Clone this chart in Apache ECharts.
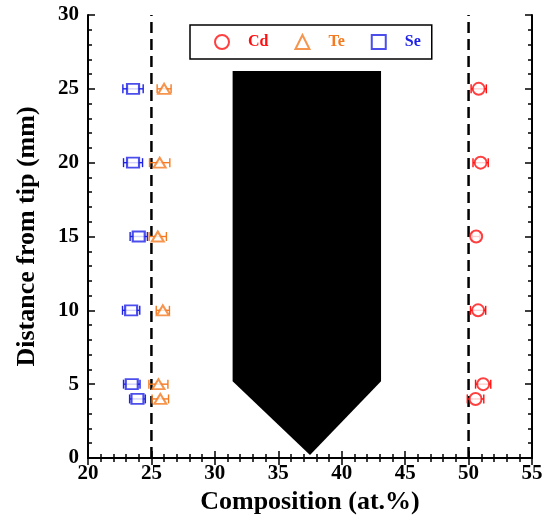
<!DOCTYPE html>
<html>
<head>
<meta charset="utf-8">
<script src="https://cdn.jsdelivr.net/npm/echarts@6/dist/echarts.min.js"></script>
<style>html,body{margin:0;padding:0;background:#fff;}#c{width:550px;height:525px;}</style>
</head>
<body>
<div id="c"></div>
<script>
// Distance from tip (mm)
var positions = [25, 20, 15, 10, 5, 4];
// Composition (at.%) and error (half-width)
var cdValues = [50.8, 50.95, 50.6, 50.75, 51.15, 50.55];
var cdErrors = [0.6, 0.6, 0.3, 0.6, 0.6, 0.65];
var teValues = [26.0, 25.65, 25.5, 25.9, 25.55, 25.7];
var teErrors = [0.55, 0.8, 0.68, 0.52, 0.75, 0.65];
var seValues = [23.55, 23.55, 24.0, 23.4, 23.45, 23.9];
var seErrors = [0.8, 0.75, 0.68, 0.68, 0.65, 0.62];
// Reference (stoichiometric) lines
var refLines = [25, 50];
// Tip outline (composition, distance)
var tipShapeX = [31.4, 43.1, 43.1, 37.5, 31.4];
var tipShapeY = [26.2, 26.2, 5.2, 0.2, 5.2];
// Axis ticks
var xTicks = [20, 25, 30, 35, 40, 45, 50, 55];
var yTicks = [0, 5, 10, 15, 20, 25, 30];

var FONT = "'Liberation Serif', 'Times New Roman', serif";
var RED = '#ff1010', ORANGE = '#f47a22', BLUE = '#1e22e6';

function pts(vals) { return vals.map(function (v, i) { return [v, positions[i]]; }); }
function errs(vals, e) { return vals.map(function (v, i) { return [v, positions[i], e[i]]; }); }

function errorBar(color) {
  return function (params, api) {
    var x = api.value(0), y = api.value(1), e = api.value(2);
    var a = api.coord([x - e, y]), b = api.coord([x + e, y]);
    var h = 4.5;
    var st = { stroke: color, lineWidth: 1.4 };
    return {
      type: 'group',
      children: [
        { type: 'line', shape: { x1: a[0], y1: a[1], x2: b[0], y2: b[1] }, style: st },
        { type: 'line', shape: { x1: a[0], y1: a[1] - h, x2: a[0], y2: a[1] + h }, style: st },
        { type: 'line', shape: { x1: b[0], y1: b[1] - h, x2: b[0], y2: b[1] + h }, style: st }
      ]
    };
  };
}

var axisCommon = {
  axisLine: { show: true, lineStyle: { color: '#000', width: 2 } },
  axisTick: { show: true, inside: true, length: 7, lineStyle: { color: '#000', width: 1.5 } },
  minorTick: { show: true, splitNumber: 5, length: 4, lineStyle: { color: '#000', width: 1.5 } },
  splitLine: { show: false }
};

var chart = echarts.init(document.getElementById('c'), null, { renderer: 'canvas' });
chart.setOption({
  backgroundColor: '#fff',
  animation: false,
  grid: { left: 88, right: 18, top: 15, bottom: 67 },
  legend: {
    left: 190, top: 25,
    orient: 'horizontal',
    padding: [9, 11, 9, 24],
    itemWidth: 14, itemHeight: 14, itemGap: 26,
    borderColor: '#000', borderWidth: 1.5, backgroundColor: '#fff',
    selectedMode: false,
    textStyle: { fontFamily: FONT, fontWeight: 'bold', fontSize: 16, padding: [0, 0, 0, 14] },
    data: [
      { name: 'Cd', textStyle: { color: RED } },
      { name: 'Te', textStyle: { color: ORANGE } },
      { name: 'Se', textStyle: { color: BLUE } }
    ]
  },
  xAxis: [
    Object.assign({}, axisCommon, {
      type: 'value', min: xTicks[0], max: xTicks[xTicks.length - 1], interval: 5,
      name: 'Composition (at.%)', nameLocation: 'middle', nameGap: 30,
      nameTextStyle: { fontFamily: FONT, fontWeight: 'bold', fontSize: 26, color: '#000' },
      axisLabel: { fontFamily: FONT, fontWeight: 'bold', fontSize: 21, color: '#000', margin: 5 }
    }),
    Object.assign({}, axisCommon, {
      type: 'value', position: 'top', min: xTicks[0], max: xTicks[xTicks.length - 1], interval: 5,
      axisLabel: { show: false }
    })
  ],
  yAxis: [
    Object.assign({}, axisCommon, {
      type: 'value', min: yTicks[0], max: yTicks[yTicks.length - 1], interval: 5,
      name: 'Distance from tip (mm)', nameLocation: 'middle', nameGap: 48,
      nameTextStyle: { fontFamily: FONT, fontWeight: 'bold', fontSize: 26, color: '#000' },
      axisLabel: { fontFamily: FONT, fontWeight: 'bold', fontSize: 21, color: '#000', margin: 9 }
    }),
    Object.assign({}, axisCommon, {
      type: 'value', position: 'right', min: yTicks[0], max: yTicks[yTicks.length - 1], interval: 5,
      axisLabel: { show: false }
    })
  ],
  series: [
    {
      name: 'tip', type: 'custom', silent: true, z: 1,
      data: [[tipShapeX[0], tipShapeY[0]]],
      renderItem: function (params, api) {
        var p = tipShapeX.map(function (x, i) { return api.coord([x, tipShapeY[i]]); });
        return { type: 'polygon', shape: { points: p }, style: { fill: '#000' } };
      }
    },
    {
      name: 'ref25', type: 'line', silent: true, symbol: 'none', z: 2,
      data: [[refLines[0], yTicks[0]], [refLines[0], yTicks[yTicks.length - 1]]],
      lineStyle: { color: '#000', width: 2.5, type: [11, 6] }
    },
    {
      name: 'ref50', type: 'line', silent: true, symbol: 'none', z: 2,
      data: [[refLines[1], yTicks[0]], [refLines[1], yTicks[yTicks.length - 1]]],
      lineStyle: { color: '#000', width: 2.5, type: [11, 6] }
    },
    { name: 'CdErr', type: 'custom', z: 3, data: errs(cdValues, cdErrors), renderItem: errorBar(RED) },
    { name: 'TeErr', type: 'custom', z: 3, data: errs(teValues, teErrors), renderItem: errorBar(ORANGE) },
    { name: 'SeErr', type: 'custom', z: 3, data: errs(seValues, seErrors), renderItem: errorBar(BLUE) },
    {
      name: 'Cd', type: 'scatter', z: 4, symbol: 'emptyCircle', symbolSize: 12,
      itemStyle: { color: RED, borderColor: RED, borderWidth: 1.4 },
      data: pts(cdValues)
    },
    {
      name: 'Te', type: 'scatter', z: 4, symbol: 'emptyTriangle', symbolSize: [12, 10],
      itemStyle: { color: ORANGE, borderColor: ORANGE, borderWidth: 1.4 },
      data: pts(teValues)
    },
    {
      name: 'Se', type: 'scatter', z: 4, symbol: 'emptyRect', symbolSize: [12, 10],
      itemStyle: { color: BLUE, borderColor: BLUE, borderWidth: 1.4 },
      data: pts(seValues)
    }
  ]
});
</script>
</body>
</html>
